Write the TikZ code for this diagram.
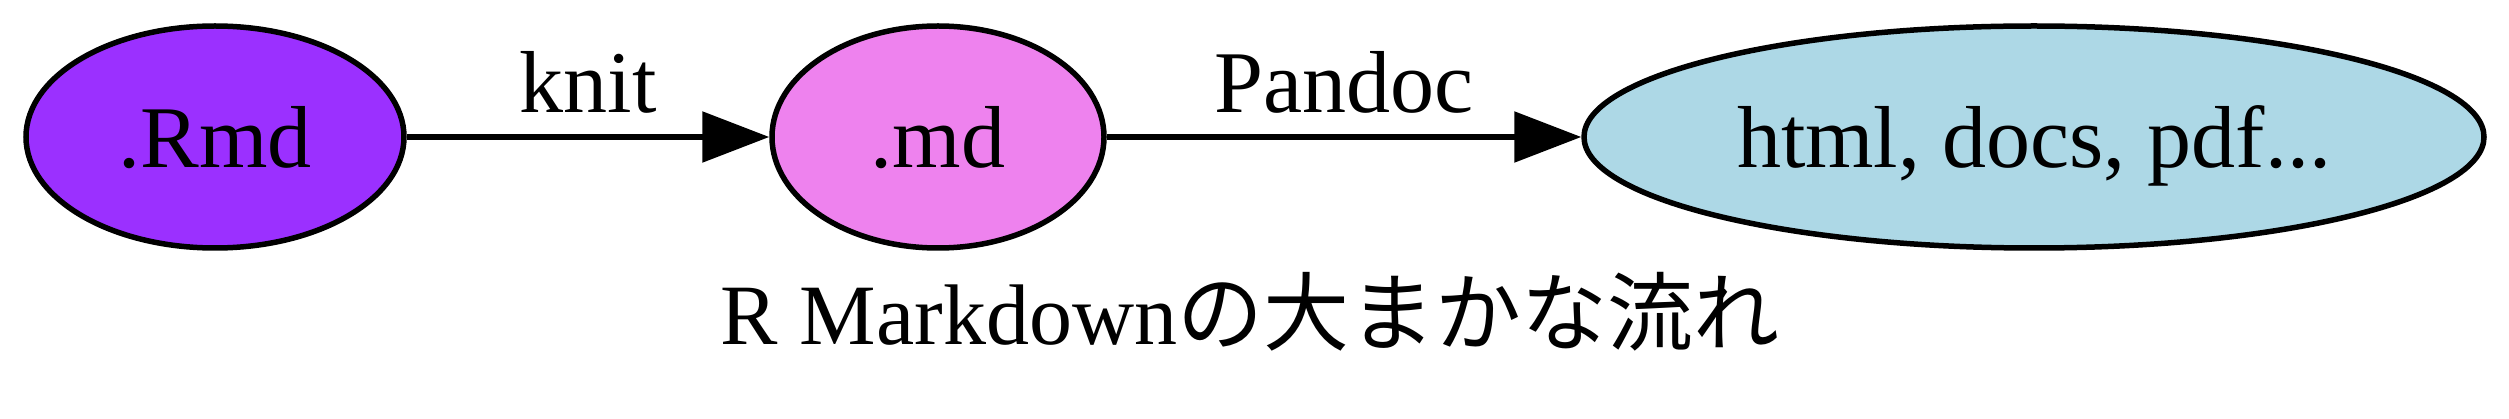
\documentclass[tikz,border=0pt]{standalone}
\usepackage{fontspec}
\setmainfont{Liberation Serif}
\newfontfamily\jpfont{Noto Sans CJK JP}
\usepackage{tikz}
\usetikzlibrary{shapes.geometric, arrows.meta}
\definecolor{rmdpurple}{HTML}{9B30FF}
\definecolor{mdviolet}{HTML}{EE82EE}
\definecolor{outblue}{HTML}{ADD8E6}

\begin{document}
\begin{tikzpicture}[x=1pt, y=1pt,
  filenode/.style={shape=ellipse, draw, line width=5.5pt, minimum height=222pt,
    inner sep=0pt, text depth=0pt, font=\fontsize{88}{100}\selectfont},
  flow/.style={-{Triangle[length=67pt, width=50pt]}, line width=5.5pt},
  steplabel/.style={anchor=base, yshift=24pt, font=\fontsize{88}{100}\selectfont}]
\useasboundingbox (0, 0) rectangle (2509, -419);
\node at (215, -137) [filenode, fill=rmdpurple, minimum width=378pt] (rmd) {.Rmd};
\node at (938, -137) [filenode, fill=mdviolet, minimum width=332pt] (md) {.md};
\node at (2034, -137) [filenode, fill=outblue, minimum width=900pt] (out) {html, docs, pdf...};
\draw [flow] (rmd) to node [steplabel] {knit} (md);
\draw [flow] (md) to node [steplabel] {Pandoc} (out);
\node at (1250, -345) [anchor=base, font=\fontsize{86}{100}\selectfont] (caption)
  {R Markdown{\jpfont の大まかな流れ}};
\end{tikzpicture}
\end{document}
